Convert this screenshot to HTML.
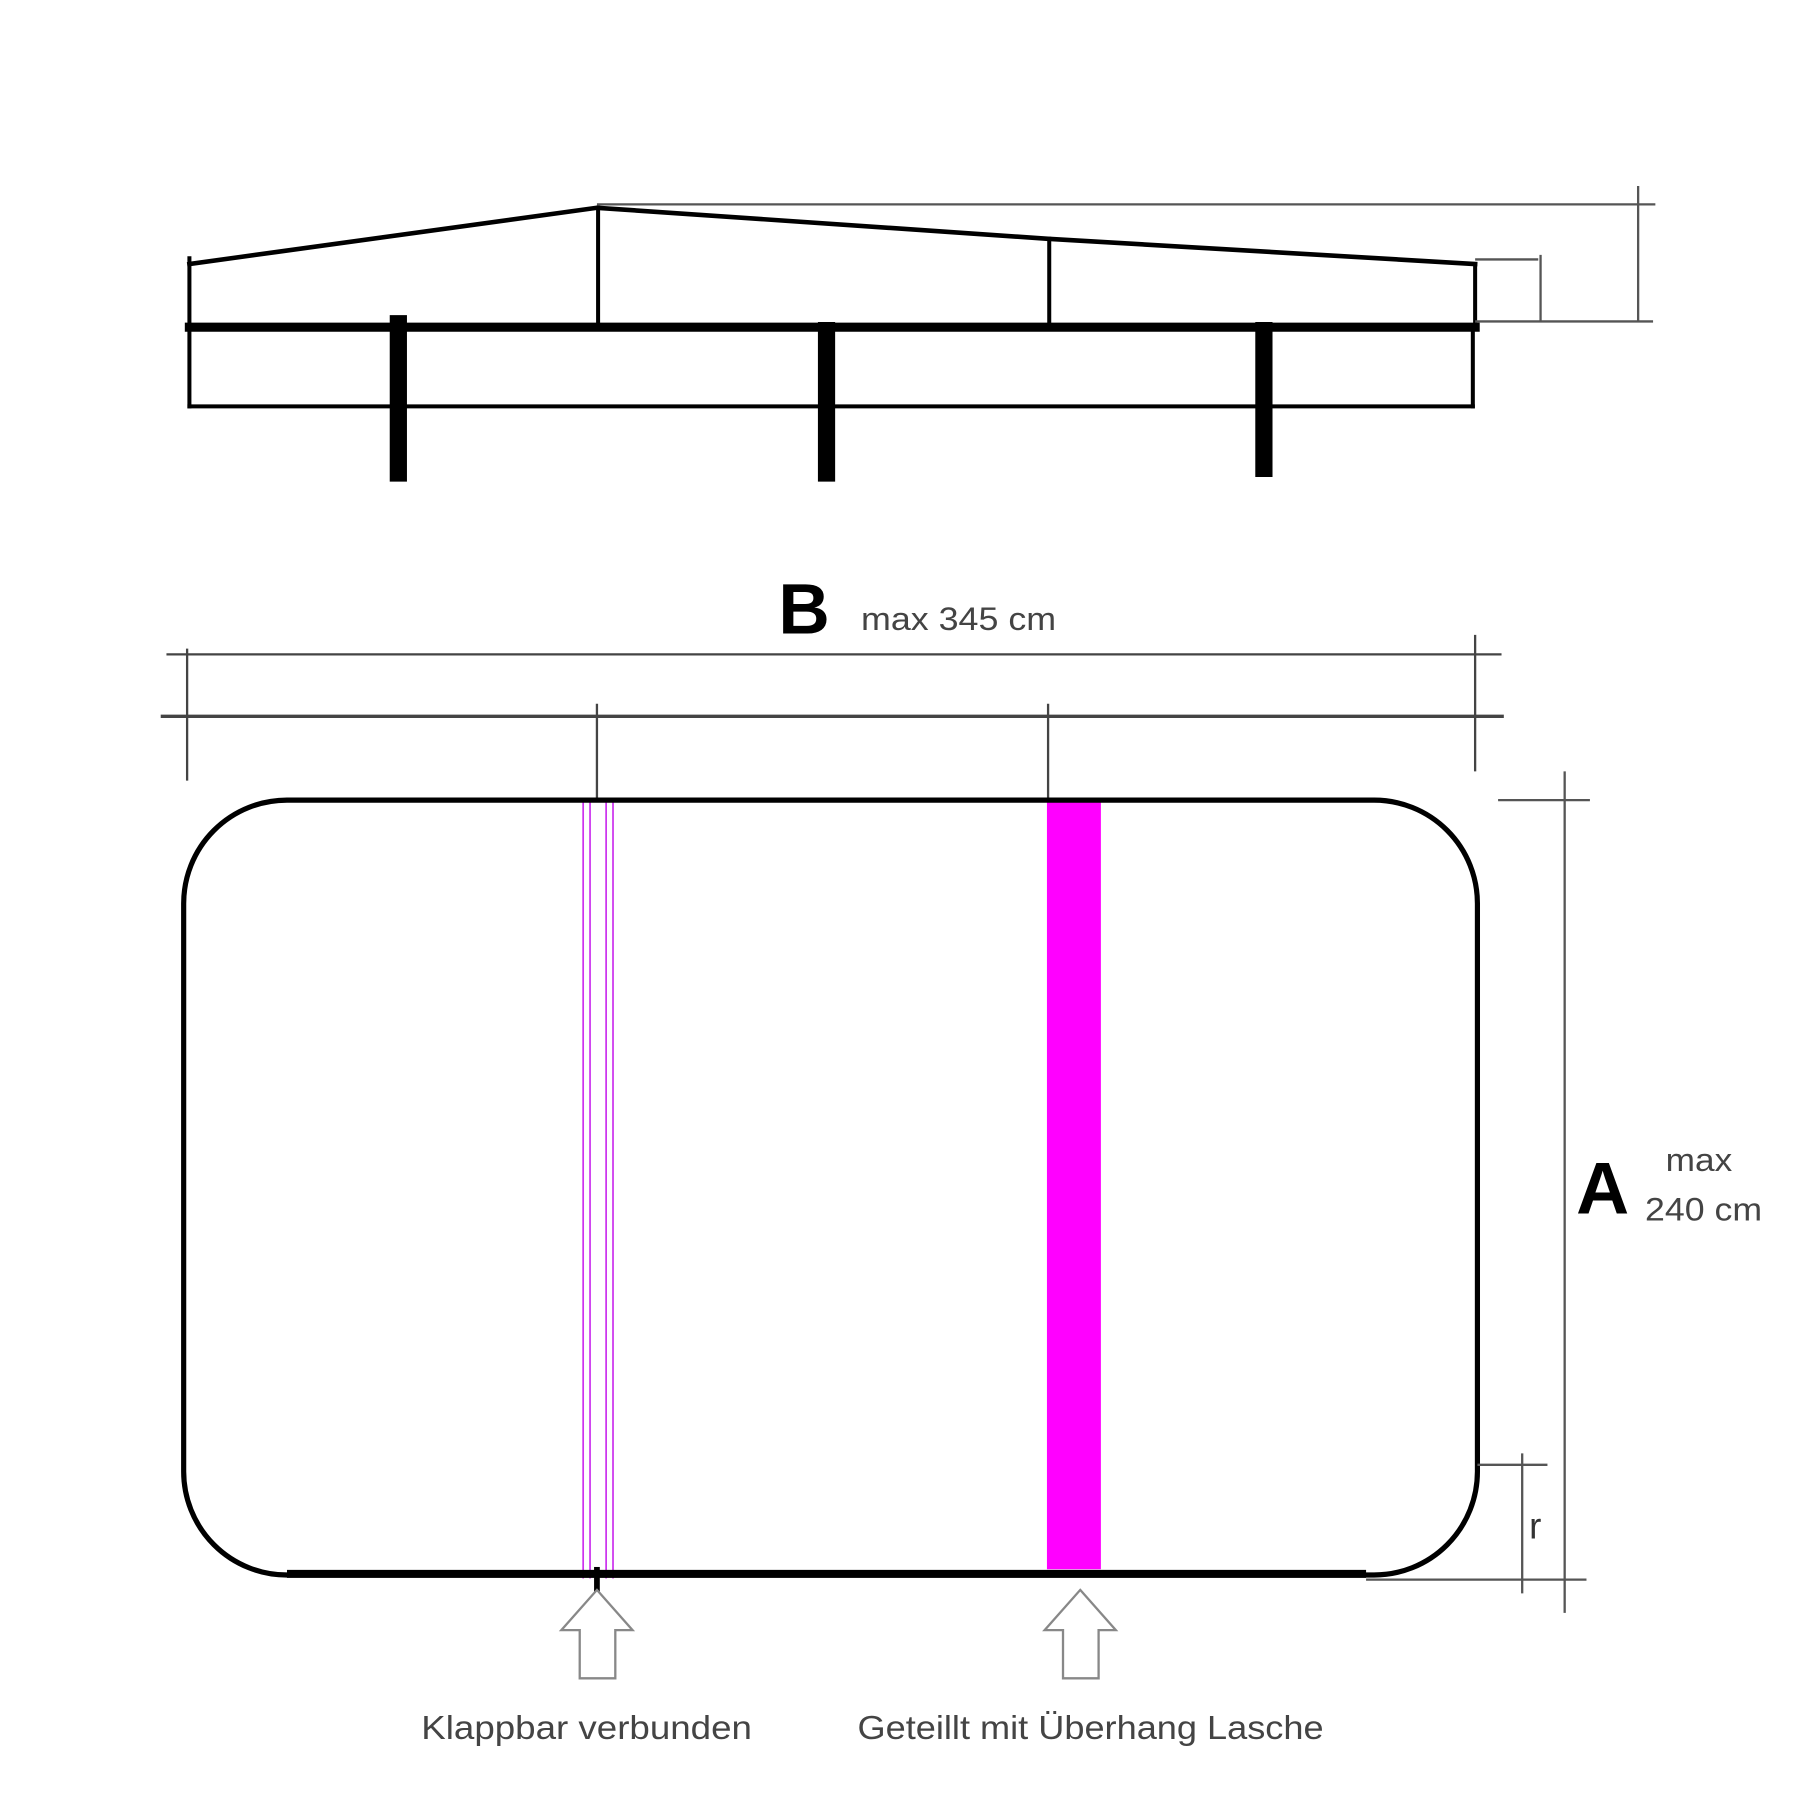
<!DOCTYPE html>
<html><head><meta charset="utf-8"><style>
html,body{margin:0;padding:0;background:#fff;}
svg{display:block;}
text{font-family:"Liberation Sans","DejaVu Sans",sans-serif;}
</style></head><body>
<svg width="1800" height="1800" viewBox="0 0 1568 1568" xmlns="http://www.w3.org/2000/svg">
<rect width="1568" height="1568" fill="#fff"/>
<g stroke="#000" fill="none" stroke-linecap="square">
<polyline points="165,230 520,181 913,208 1285,230" stroke-width="4"/>
<line x1="165" y1="225" x2="165" y2="354" stroke-width="3.5"/>
<line x1="521" y1="181" x2="521" y2="283" stroke-width="3.5"/>
<line x1="914" y1="208" x2="914" y2="283" stroke-width="3.5"/>
<line x1="1285" y1="230" x2="1285" y2="283" stroke-width="3.5"/>
<line x1="165" y1="285" x2="1285" y2="285" stroke-width="8"/>
<line x1="165" y1="354" x2="1283" y2="354" stroke-width="3.5"/>
<line x1="1283" y1="285" x2="1283" y2="354" stroke-width="3.5"/>
<line x1="347" y1="282" x2="347" y2="412" stroke-width="15"/>
<line x1="720" y1="288" x2="720" y2="412" stroke-width="15"/>
<line x1="1101" y1="288" x2="1101" y2="408" stroke-width="15"/>
</g>
<g stroke="#555" stroke-width="2" fill="none">
<line x1="520" y1="178" x2="1442" y2="178"/>
<line x1="1427" y1="162" x2="1427" y2="280"/>
<line x1="1285" y1="280" x2="1440" y2="280"/>
<line x1="1285" y1="226" x2="1340" y2="226"/>
<line x1="1342" y1="222" x2="1342" y2="280"/>
</g>
<text x="678" y="552" font-size="62" font-weight="bold" fill="#000">B</text>
<text x="750" y="549" font-size="28" fill="#444" textLength="170" lengthAdjust="spacingAndGlyphs">max 345 cm</text>
<g stroke="#444" fill="none">
<line x1="145" y1="570" x2="1308" y2="570" stroke-width="2"/>
<line x1="140" y1="624" x2="1310" y2="624" stroke-width="3"/>
<line x1="163" y1="565" x2="163" y2="680" stroke-width="2"/>
<line x1="1285" y1="553" x2="1285" y2="672" stroke-width="2"/>
<line x1="520" y1="613" x2="520" y2="697" stroke-width="2"/>
<line x1="913" y1="613" x2="913" y2="697" stroke-width="2"/>
</g>
<rect x="912" y="699" width="47" height="668" fill="#ff00ff"/>
<g stroke="#cc33ee" stroke-width="1.5" fill="none">
<line x1="508" y1="697" x2="508" y2="1375"/>
<line x1="514" y1="697" x2="514" y2="1375"/>
<line x1="528" y1="697" x2="528" y2="1375"/>
<line x1="534" y1="697" x2="534" y2="1375"/>
<line x1="508" y1="697" x2="534" y2="697"/>
</g>
<rect x="160" y="697" width="1127" height="675" rx="90" ry="90" fill="none" stroke="#000" stroke-width="4.5"/>
<line x1="250" y1="1371" x2="1190" y2="1371" stroke="#000" stroke-width="7"/>
<line x1="520" y1="1365" x2="520" y2="1388" stroke="#000" stroke-width="5"/>
<g stroke="#555" stroke-width="2" fill="none">
<line x1="1363" y1="672" x2="1363" y2="1405"/>
<line x1="1305" y1="697" x2="1385" y2="697"/>
<line x1="1190" y1="1376" x2="1382" y2="1376"/>
<line x1="1287" y1="1276" x2="1348" y2="1276"/>
<line x1="1326" y1="1266" x2="1326" y2="1388"/>
</g>
<text x="1332" y="1340" font-size="32" fill="#333">r</text>
<text x="1373" y="1057" font-size="64" font-weight="bold" fill="#000">A</text>
<text x="1451" y="1020" font-size="28" fill="#444" textLength="58" lengthAdjust="spacingAndGlyphs">max</text>
<text x="1433" y="1063" font-size="28" fill="#444" textLength="102" lengthAdjust="spacingAndGlyphs">240 cm</text>
<g fill="#fff" stroke="#888" stroke-width="2">
<polygon points="520,1385 551,1420 536,1420 536,1462 505,1462 505,1420 489,1420"/>
<polygon points="941,1385 972,1420 957,1420 957,1462 926,1462 926,1420 910,1420"/>
</g>
<text x="367" y="1515" font-size="29" fill="#444" textLength="288" lengthAdjust="spacingAndGlyphs">Klappbar verbunden</text>
<text x="747" y="1515" font-size="29" fill="#444" textLength="406" lengthAdjust="spacingAndGlyphs">Geteillt mit Überhang Lasche</text>
</svg>
</body></html>
